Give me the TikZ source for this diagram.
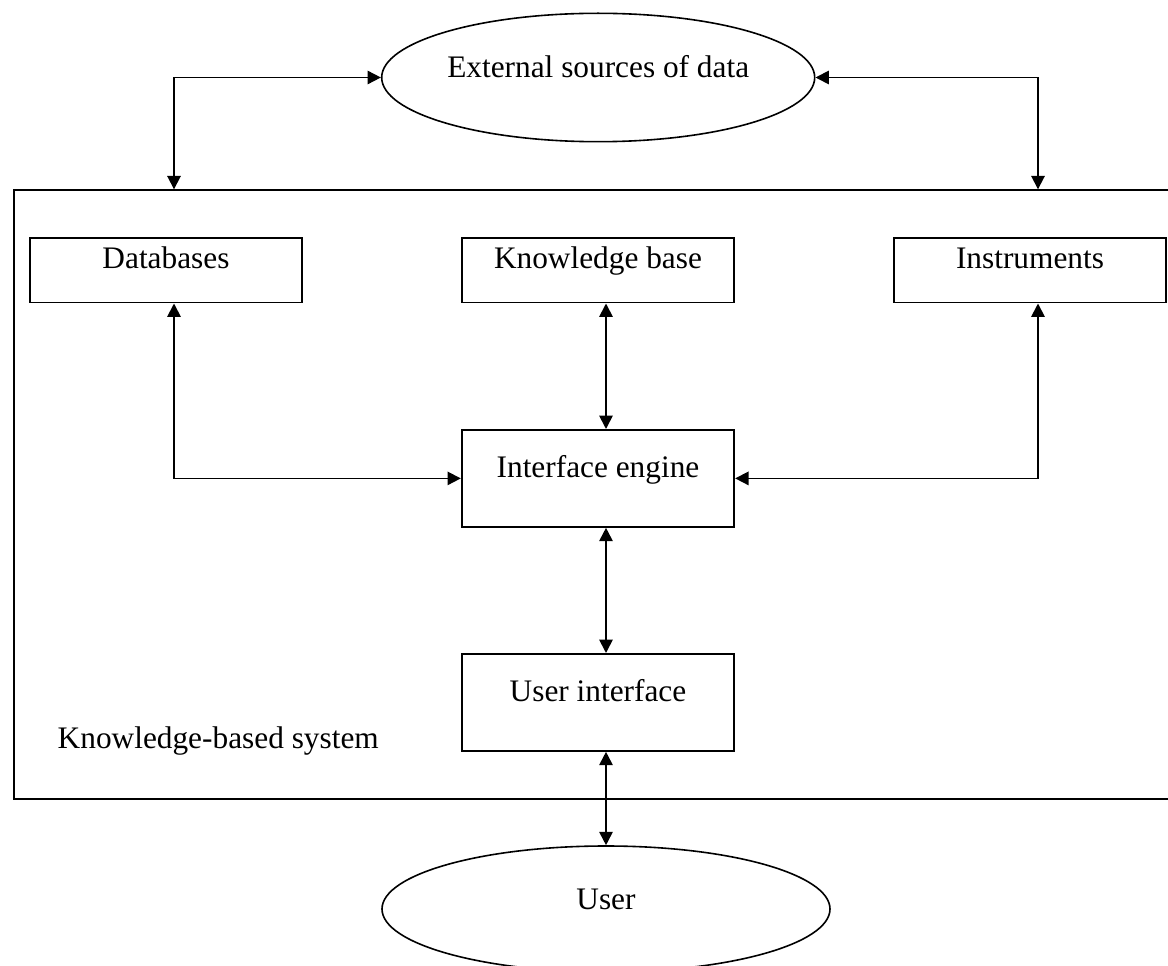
\documentclass[tikz,border=0pt]{standalone}
\usepackage{fontspec}
\setmainfont{Liberation Serif}
\usetikzlibrary{arrows.meta,shapes.geometric}
\tikzset{
  caja/.style={draw, line width=1.35pt, inner sep=0pt, minimum width=204.4pt, text height=23pt, text depth=25.3pt},
  cajaalta/.style={caja, text height=36pt, text depth=36.75pt},
  nube/.style={draw, ellipse, line width=1.2pt, inner sep=0pt, text height=8pt, text depth=8pt},
  flecha/.style={line width=1.35pt, {Triangle[length=10pt,width=10pt]}-{Triangle[length=10pt,width=10pt]}}
}
\begin{document}
\begin{tikzpicture}[x=0.75pt, y=-0.75pt, font=\fontsize{23.5}{28}\selectfont]
\useasboundingbox (0,0) rectangle (1168,966);
% Fuente externa
\node[nube, minimum width=324.75pt, minimum height=96.3pt] (ext) at (598.2,77.5) {External sources of data};
% Sistema
\node[draw, line width=1.35pt, inner sep=0pt, anchor=north west, minimum width=875pt, minimum height=456.3pt] (kbs) at (13.3,189.3) {};
\node[anchor=base west] (lbl) at (53,748) {Knowledge-based system};
% Fila superior
\node[caja, anchor=north] (db) at (166,237.3) {Databases};
\node[caja, anchor=north] (kb) at (598,237.3) {Knowledge base};
\node[caja, anchor=north] (inst) at (1030,237.3) {Instruments};
% Motor e interfaz
\node[cajaalta, anchor=north] (ie) at (598,429) {Interface engine};
\node[cajaalta, anchor=north] (ui) at (598,653) {User interface};
% Usuario
\node[nube, minimum width=336pt, minimum height=94.5pt] (user) at (606,909) {User};
% Columnas de flechas
\coordinate (izq) at ([xshift=6pt]db.south);
\coordinate (der) at ([xshift=6pt]inst.south);
\coordinate (cen) at ([xshift=6pt]kb.south);
% Flechas
\draw[flecha] (ext.west) -| (izq |- kbs.north);
\draw[flecha] (ext.east) -| (der |- kbs.north);
\draw[flecha] (izq) |- (ie.west);
\draw[flecha] (der) |- (ie.east);
\draw[flecha] (cen) -- (cen |- ie.north);
\draw[flecha] (cen |- ie.south) -- (cen |- ui.north);
\draw[flecha] (cen |- ui.south) -- (user.north);
\end{tikzpicture}
\end{document}
